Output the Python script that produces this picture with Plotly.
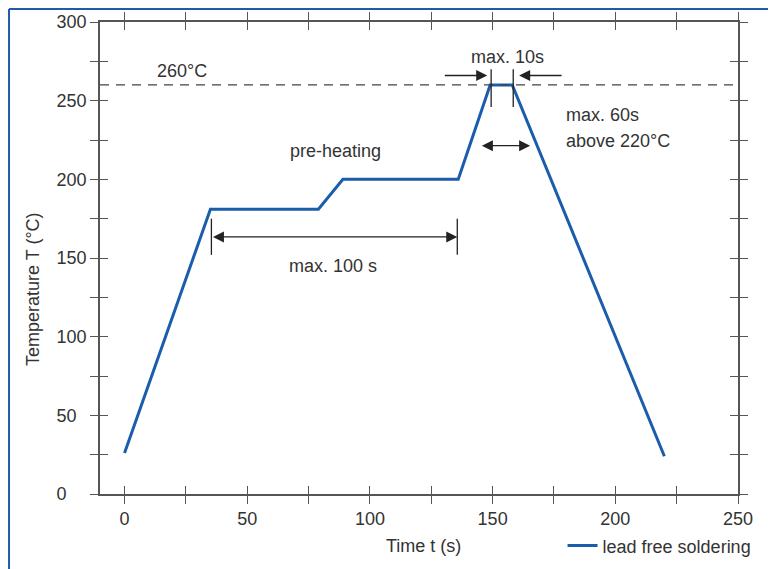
import plotly.graph_objects as go

# ---- data ----
time_s = [0, 35, 79, 89, 136, 149, 158, 220]
temp_c = [26, 181, 181, 200, 200, 260, 260, 24]

x_tick_vals = [0, 25, 50, 75, 100, 125, 150, 175, 200, 225, 250]
x_tick_text = ["0", "", "50", "", "100", "", "150", "", "200", "", "250"]
y_tick_vals = [0, 25, 50, 75, 100, 125, 150, 175, 200, 225, 250, 275, 300]
# labels are left-aligned in the reference: pad with figure spaces
y_tick_text = ["0\u2007\u2007", "", "50\u2007", "", "100", "", "150", "", "200", "", "250", "", "300"]

peak_limit = 260
x_range = [-10, 250]
y_range = [0, 300]

BLUE = "#1c5dab"
AX = "#555555"
TXT = "#333333"
FONT = "Liberation Sans, Arial, sans-serif"
FS = 18

fig = go.Figure()
fig.add_trace(go.Scatter(x=time_s, y=temp_c, mode="lines",
                         line=dict(color=BLUE, width=3),
                         name="lead free soldering", hoverinfo="skip"))
fig.add_trace(go.Scatter(x=[None], y=[None], xaxis="x2", yaxis="y2",
                         showlegend=False, hoverinfo="skip"))

common = dict(showline=True, linecolor=AX, linewidth=1.5, tickcolor=AX,
              tickwidth=1.3, ticklen=8, showgrid=False, zeroline=False,
              mirror="ticks", automargin=False)
fig.update_layout(
    width=768, height=561,
    paper_bgcolor="white", plot_bgcolor="white",
    margin=dict(l=92, r=38, t=14, b=75, autoexpand=False),
    font=dict(family=FONT, size=FS, color=TXT),
    xaxis=dict(range=x_range, tickvals=x_tick_vals, ticktext=x_tick_text,
               ticks="outside", **common),
    yaxis=dict(range=y_range, tickvals=y_tick_vals, ticktext=y_tick_text,
               ticks="outside", **common),
    xaxis2=dict(range=x_range, tickvals=x_tick_vals, overlaying="x",
                side="bottom", anchor="y2", ticks="inside",
                showticklabels=False, **common),
    yaxis2=dict(range=y_range, tickvals=y_tick_vals, overlaying="y",
                side="left", anchor="x2", ticks="inside",
                showticklabels=False, **common),
    showlegend=True,
    legend=dict(x=0.725, y=-0.110, xanchor="left", yanchor="middle",
                bgcolor="rgba(0,0,0,0)", itemwidth=30,
                font=dict(size=FS, color=TXT)),
)

# 260 °C limit line
fig.add_shape(type="line", xref="paper", yref="y", x0=0, x1=1,
              y0=peak_limit, y1=peak_limit,
              line=dict(color="#444444", width=1.3, dash="9px,7px"))

# frame (blue border)
fig.add_shape(type="line", xref="paper", yref="paper", x0=-0.1426, x1=-0.1426,
              y0=-0.25, y1=1.0275, line=dict(color=BLUE, width=2))
fig.add_shape(type="line", xref="paper", yref="paper", x0=-0.1426, x1=1.055,
              y0=1.0275, y1=1.0275, line=dict(color=BLUE, width=2))

# vertical marker lines
for xv, y0, y1 in [(149.4, 246, 270), (158.4, 246, 270), (35.4, 152, 175), (135.6, 152, 175)]:
    fig.add_shape(type="line", xref="x", yref="y", x0=xv, x1=xv, y0=y0, y1=y1,
                  line=dict(color="#222222", width=1.3))

def arrow(x_head, x_tail, yv, both=False):
    fig.add_annotation(x=x_head, y=yv, ax=x_tail, ay=yv, axref="x", ayref="y",
                       xref="x", yref="y", text="", showarrow=True,
                       arrowhead=2, arrowsize=1.7, arrowwidth=1.3,
                       arrowcolor="#222222", standoff=0, startstandoff=0,
                       arrowside="end+start" if both else "end",
                       startarrowhead=2, startarrowsize=1.7)

arrow(147.8, 129.9, 266)
arrow(160.8, 178.7, 266)
arrow(165.3, 145.0, 221.4, both=True)
arrow(135.6, 35.4, 163.4, both=True)

def label(x, y, text, xanchor="center"):
    fig.add_annotation(x=x, y=y, xref="x", yref="y", text=text, showarrow=False,
                       xanchor=xanchor, yanchor="middle",
                       font=dict(family=FONT, size=FS, color=TXT))

label(23.6, 269, "260°C")
label(156, 277.6, "max. 10s")
label(179.2, 240.6, "max. 60s", xanchor="left")
label(179.2, 224.6, "above 220°C", xanchor="left")
label(85.9, 218, "pre-heating")
label(85.1, 145, "max. 100 s")

# axis titles
fig.add_annotation(x=(423 - 100) / 638, y=(494 - 546) / 472, xref="paper", yref="paper",
                   text="Time t (s)", showarrow=False, xanchor="center", yanchor="middle",
                   font=dict(family=FONT, size=FS, color=TXT))
fig.add_annotation(x=(33 - 100) / 638, y=(494 - 289) / 472, xref="paper", yref="paper",
                   text="Temperature T (°C)", showarrow=False, textangle=-90,
                   xanchor="center", yanchor="middle",
                   font=dict(family=FONT, size=FS, color=TXT))

fig.write_html("out.html")
